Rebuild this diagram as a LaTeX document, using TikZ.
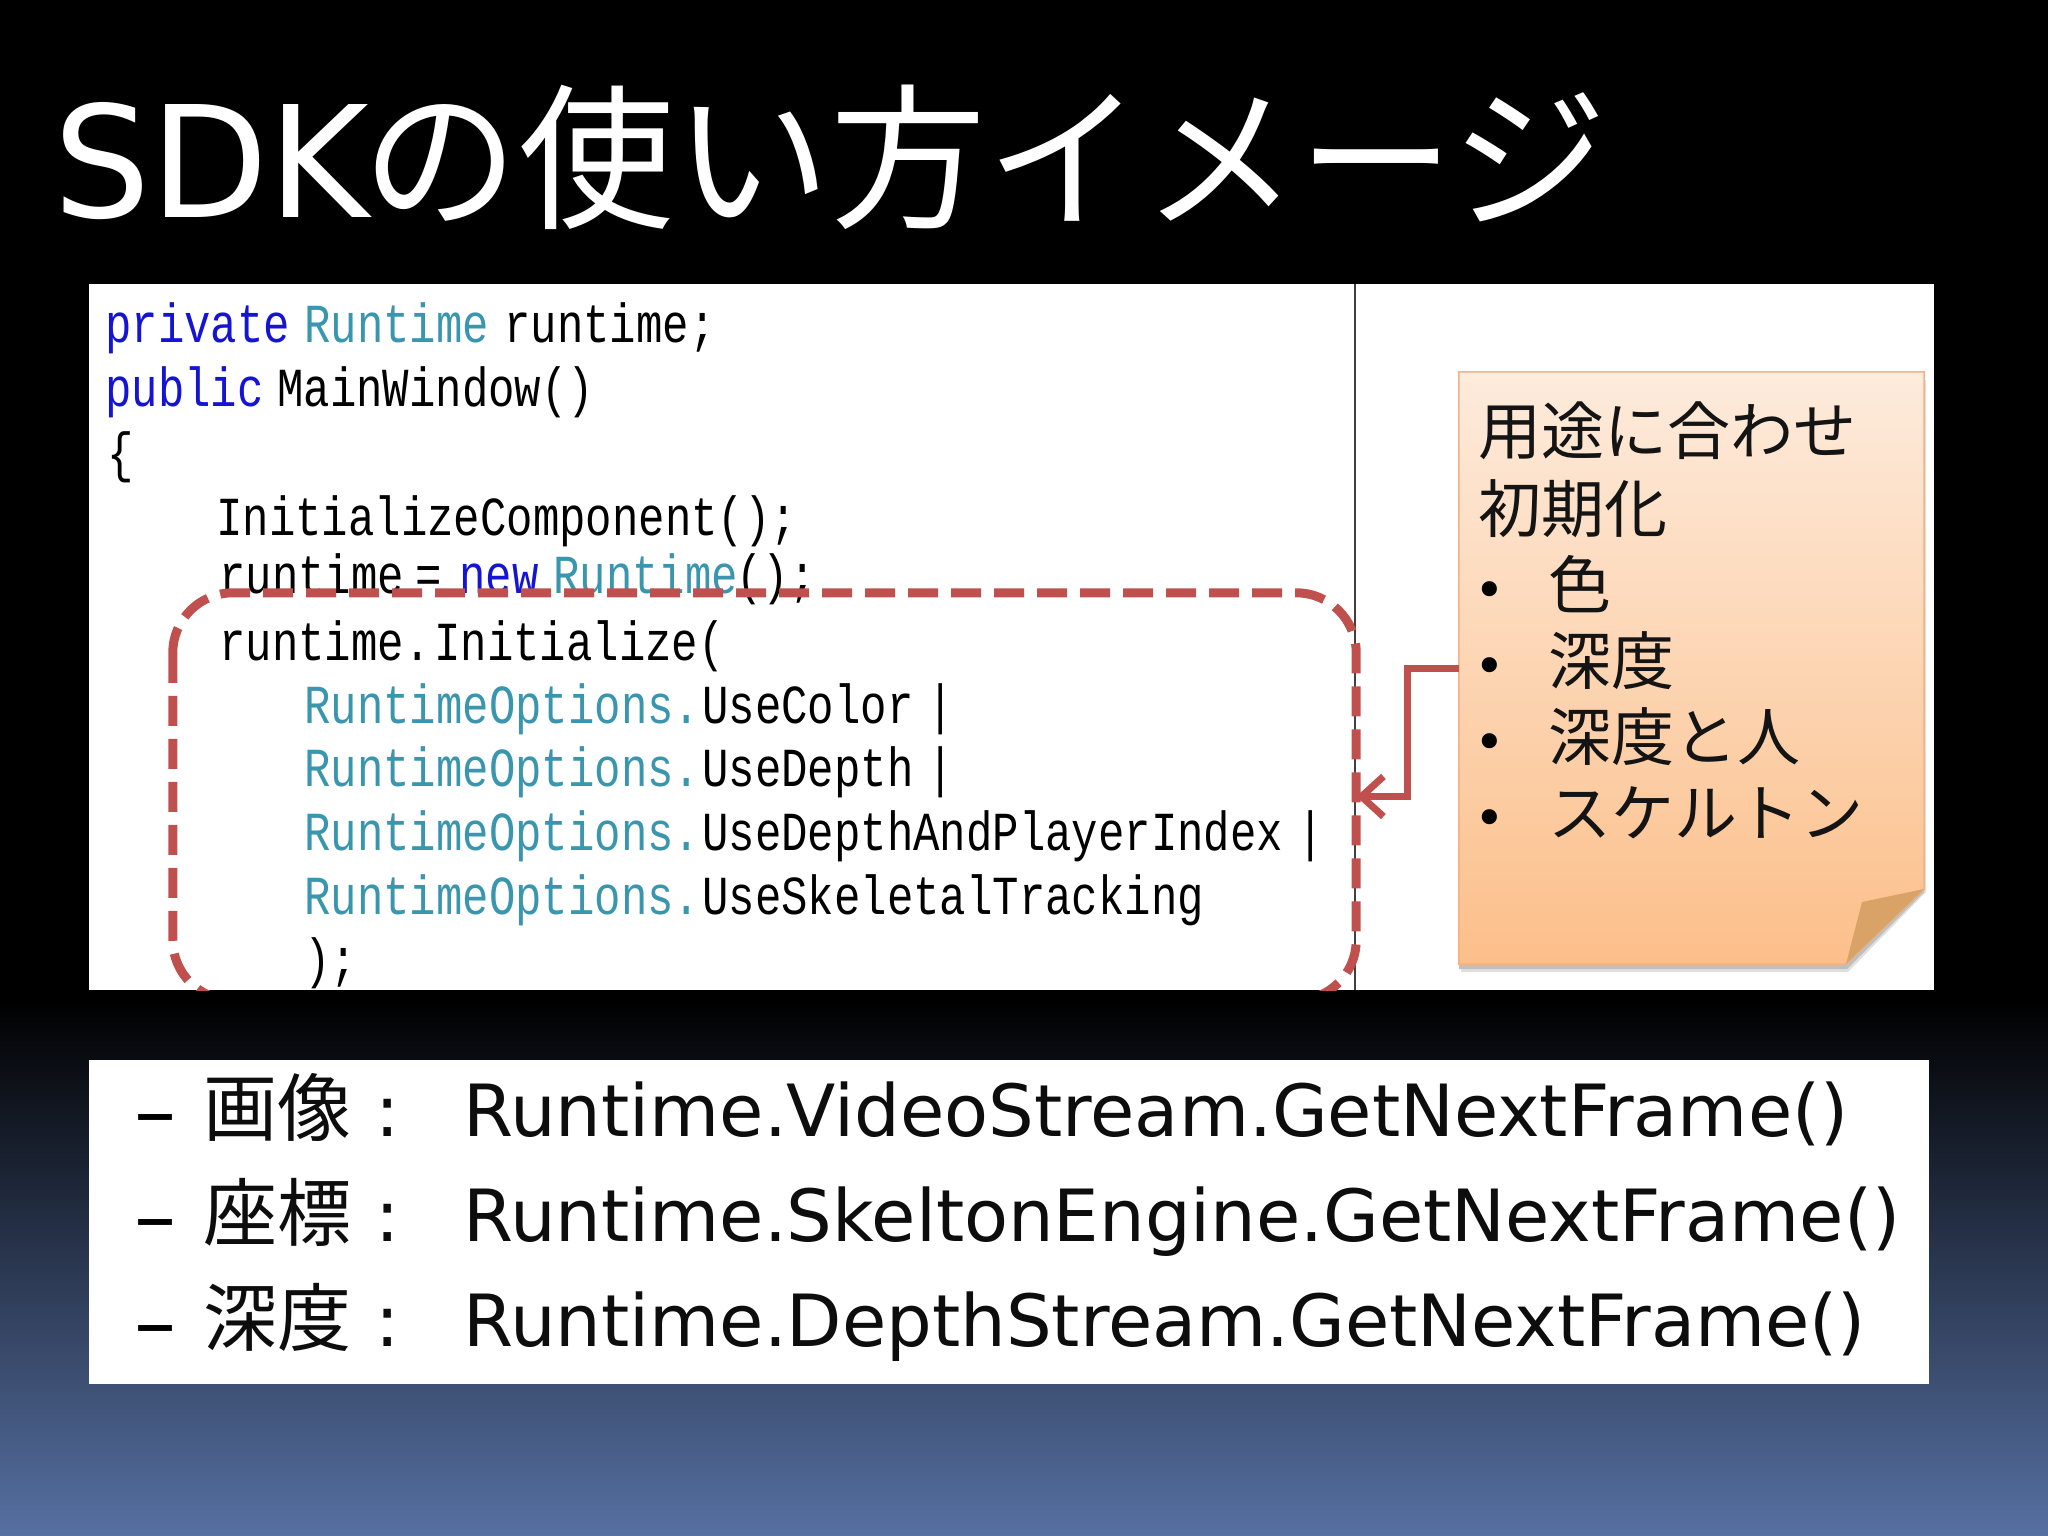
\documentclass[tikz,border=0pt]{standalone}
\usepackage{fontspec}
\usetikzlibrary{arrows.meta}
\setmainfont{DejaVu Sans}
\newfontfamily\cjkfont{Noto Sans CJK JP}
\newfontfamily\codefont[FakeStretch=0.80]{Liberation Mono}
\newfontfamily\titlefont[FakeStretch=0.99]{DejaVu Sans}
\definecolor{keyblue}{HTML}{1414D2}
\definecolor{typeteal}{HTML}{3A96AE}
\definecolor{redline}{HTML}{C0504D}
\definecolor{bgbottom}{HTML}{5670A2}
\definecolor{notetop}{HTML}{FDEBDC}
\definecolor{notebottom}{HTML}{FCBF8A}
\definecolor{noteedge}{HTML}{F4B183}
\definecolor{notefold}{HTML}{D9A367}
\tikzset{
  code/.style={anchor=base west,inner sep=0pt,font=\codefont\fontsize{55}{60}\selectfont,text=#1},
  code/.default=black,
  notetext/.style={anchor=base west,inner sep=0pt,font=\cjkfont\fontsize{63}{70}\selectfont,text=black!92},
  bullet/.style={anchor=center,inner sep=0pt,font=\fontsize{52}{60}\selectfont,text=black},
  lowcjk/.style={anchor=base west,inner sep=0pt,font=\cjkfont\fontsize{74}{80}\selectfont,text=black!95},
  lowtext/.style={anchor=base west,inner sep=0pt,font=\fontsize{72}{80}\selectfont,text=black!95},
  lowdash/.style={anchor=base west,inner sep=0pt,font=\fontsize{84}{80}\selectfont,text=black},
  panel/.style={fill=white,draw=none},
  conn/.style={draw=redline,line width=7pt,-{Straight Barb[length=22pt,width=40pt,line width=7pt]}}
}
\begin{document}
\begin{tikzpicture}[x=1pt,y=-1pt]
\useasboundingbox (0,0) rectangle (2048,1536);
% background
\fill[black] (0,0) rectangle (2048,1001);
\shade[top color=black,bottom color=bgbottom] (0,1000) rectangle (2048,1536);
% title
\node[anchor=base west,inner sep=0pt,text=white] (titleA) at (53,217) {\titlefont\fontsize{155}{170}\selectfont SDK};
\node[anchor=base west,inner sep=0pt,text=white] (titleB) at (362,216) {\cjkfont\fontsize{156}{170}\selectfont の使い方イメージ};
% code panel
\fill[panel] (89,284) rectangle (1934,990);
\draw[black!75,line width=1.5pt] (1355,284) -- (1355,990);
\node[code=keyblue] (c1a) at (105,342) {private};
\node[code=typeteal] (c1b) at (304,342) {Runtime};
\node[code] (c1c) at (504,342) {runtime;};
\node[code=keyblue] (c2a) at (105,406) {public};
\node[code] (c2b) at (277,406) {MainWindow()};
\node[code] (c3) at (107,471) {\{};
\node[code] (c4) at (216,535) {InitializeComponent();};
\node[code] (c5a) at (219,593) {runtime};
\node[code] (c5b) at (415,593) {=};
\node[code=keyblue] (c5c) at (459,593) {new};
\node[code=typeteal] (c5d) at (553,593) {Runtime};
\node[code] (c5e) at (736,593) {();};
\node[code] (c6a) at (219,660) {runtime.};
\node[code] (c6b) at (434,660) {Initialize(};
\node[code=typeteal] (c7a) at (304,723) {RuntimeOptions.};
\node[code] (c7b) at (702,723) {UseColor};
\node[code] (c7c) at (927,723) {|};
\node[code=typeteal] (c8a) at (304,786) {RuntimeOptions.};
\node[code] (c8b) at (702,786) {UseDepth};
\node[code] (c8c) at (927,786) {|};
\node[code=typeteal] (c9a) at (304,850) {RuntimeOptions.};
\node[code] (c9b) at (702,850) {UseDepthAndPlayerIndex};
\node[code] (c9c) at (1297,850) {|};
\node[code=typeteal] (c10a) at (304,914) {RuntimeOptions.};
\node[code] (c10b) at (702,914) {UseSkeletalTracking};
\node[code] (c11) at (304,977) {);};
% dashed frame, cut by the panel edge
\node[minimum width=1183pt,minimum height=407pt,inner sep=0pt] (frame) at (764.5,796.5) {};
\begin{scope}
\clip (89,284) rectangle (1934,990);
\draw[redline,line width=9pt,rounded corners=60pt,dash pattern=on 30pt off 13pt]
  (frame.north west) rectangle (frame.south east);
\end{scope}
% note
\node[minimum width=465pt,minimum height=592pt,inner sep=0pt] (note) at (1691.5,668) {};
\fill[black!12] (1461,380) -- (1926,380) -- (1926,892) -- (1848,972) -- (1461,972) -- cycle;
\fill[black!25] (1459,380) -- (1924,380) -- (1924,892) -- (1847,969) -- (1459,969) -- cycle;
\shade[top color=notetop,bottom color=notebottom,draw=noteedge,line width=1.5pt]
  (note.north west) -- (note.north east) -- (1924,889) -- (1846,964) -- (note.south west) -- cycle;
\fill[notefold] (1924,889) -- (1862,902) -- (1846,964) -- cycle;
\draw[conn] (note.west) -- ++(-51,0) |- (frame.east);
\node[notetext] (n1) at (1478,454) {用途に合わせ};
\node[notetext] (n2) at (1478,532) {初期化};
\node[bullet] (b1) at (1490,595) {•};
\node[notetext] (n3) at (1548,608) {色};
\node[bullet] (b2) at (1490,671) {•};
\node[notetext] (n4) at (1548,684) {深度};
\node[bullet] (b3) at (1490,747) {•};
\node[notetext] (n5) at (1548,760) {深度と人};
\node[bullet] (b4) at (1490,823) {•};
\node[notetext] (n6) at (1548,836) {スケルトン};
% lower panel
\fill[panel] (89,1060) rectangle (1929,1384);
\node[lowdash] (d1) at (134,1140) {–};
\node[lowcjk] (k1) at (203,1135) {画像};
\node[lowtext] (p1) at (375,1136) {:};
\node[lowtext] (r1) at (463,1136) {Runtime.VideoStream.GetNextFrame()};
\node[lowdash] (d2) at (134,1245) {–};
\node[lowcjk] (k2) at (203,1240) {座標};
\node[lowtext] (p2) at (375,1241) {:};
\node[lowtext] (r2) at (463,1241) {Runtime.SkeltonEngine.GetNextFrame()};
\node[lowdash] (d3) at (134,1351) {–};
\node[lowcjk] (k3) at (203,1345) {深度};
\node[lowtext] (p3) at (375,1346) {:};
\node[lowtext] (r3) at (463,1346) {Runtime.DepthStream.GetNextFrame()};
\end{tikzpicture}
\end{document}
